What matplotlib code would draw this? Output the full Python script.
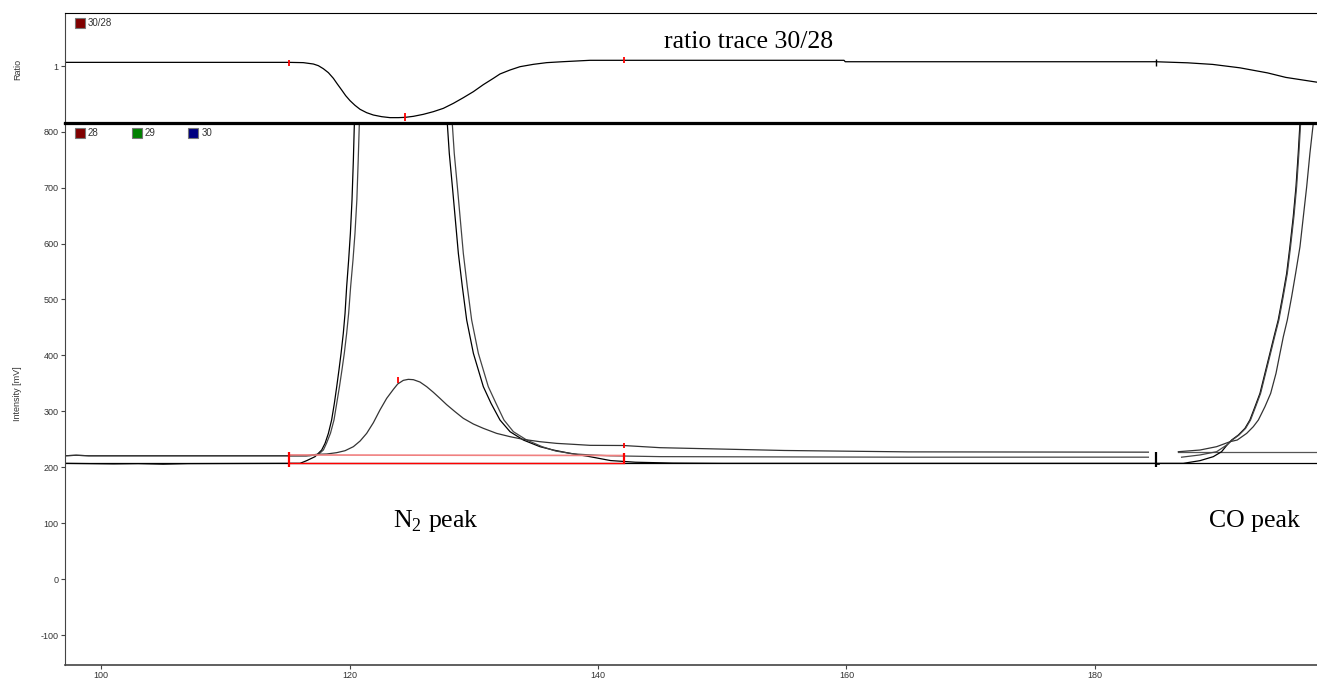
import numpy as np
import matplotlib.pyplot as plt
from matplotlib.patches import Rectangle

plt.rcParams['font.family'] = ['Liberation Sans', 'DejaVu Sans']
plt.rcParams['mathtext.fontset'] = 'custom'
plt.rcParams['mathtext.rm'] = 'Liberation Serif'
plt.rcParams['axes.unicode_minus'] = False

# ratio trace 30/28 (top panel)
ratio_t = [97.1, 114.41, 115.13, 116.28, 117.09, 117.49, 117.89, 118.30, 118.70, 119.02,
           119.37, 119.69, 120.04, 120.44, 120.85, 121.38, 121.92, 122.59, 123.26, 123.93,
           124.47, 125.14, 125.94, 126.75, 127.55, 128.36, 129.16, 129.97, 130.77, 131.58,
           132.11, 132.92, 133.72, 134.79, 135.87, 137.21, 139.36, 142.04, 159.8, 159.9,
           184.88, 187.45, 189.47, 191.67, 193.89, 195.36, 197.87]
ratio_v = [1.0064, 1.0064, 1.0064, 1.0059, 1.0035, 1.0006, 0.9953, 0.9883, 0.9784, 0.9684,
           0.9579, 0.9480, 0.9392, 0.9310, 0.9240, 0.9181, 0.9140, 0.9111, 0.9094, 0.9094,
           0.9099, 0.9117, 0.9152, 0.9199, 0.9257, 0.9345, 0.9444, 0.9550, 0.9673, 0.9784,
           0.9860, 0.9930, 0.9988, 1.0029, 1.0059, 1.0076, 1.0100, 1.0100, 1.0100, 1.0075,
           1.0075, 1.0056, 1.0028, 0.9968, 0.9879, 0.9800, 0.9716]

# mass 28 trace (intensity, mV)
m28_t = [97.1, 101, 103, 105, 107, 115, 116.02, 116.55, 117.22, 117.76, 118.03, 118.30,
         118.56, 118.78, 118.97, 119.15, 119.32, 119.50, 119.64, 119.77, 119.93, 120.07,
         120.20, 120.31, 120.39, 120.6, 122.5, 124.5, 126.5, 127.6, 127.87, 128.03, 128.28,
         128.52, 128.76, 129.08, 129.43, 129.97, 130.37, 130.77, 131.39, 132.11, 132.92,
         133.99, 135.33, 136.40, 137.75, 139.36, 141, 143, 146, 150, 184.3,
         187.11, 188.45, 189.52, 190.19, 190.6, 191.00, 191.54, 192.07, 192.47, 192.88,
         193.28, 193.68, 194.08, 194.41, 194.75, 195.10, 195.43, 195.69, 195.96, 196.18,
         196.36, 196.50, 196.8]
m28_v = [207, 206, 206.5, 205.5, 206.5, 207, 207, 211.8, 218.9, 230.8, 242.7, 260.6,
         284.5, 314.3, 344.1, 373.9, 403.7, 439.5, 475.2, 522.9, 570.6, 618.3,
         677.9, 749.4, 815, 1000, 1800, 2300, 1800, 1000, 815, 761.4, 701.7,
         642.1, 582.5, 522.9, 463.3, 403.7, 373.9, 344.1, 314.3, 284.5, 263.6,
         248.7, 236.8, 230.8, 224.9, 218.9, 212, 209, 207.5, 207, 207,
         207, 211.8, 218.9, 227.8, 239, 248.7, 257.6, 269.5, 284.5, 308.3,
         332.1, 367.9, 403.7, 433.5, 463.3, 505.0, 546.8, 594.4, 648.1, 701.7,
         761.3, 815, 1000]

# mass 29 trace
m29_t = [97.1, 98.0, 99.0, 116.8, 117.5, 117.9, 118.15, 118.47, 118.75, 118.97, 119.19,
         119.39, 119.58, 119.77, 119.93, 120.09, 120.28, 120.44, 120.59, 120.70, 120.79,
         121.0, 122.5, 124.5, 126.5, 128.0, 128.27, 128.43, 128.68, 128.92, 129.16, 129.48,
         129.83, 130.37, 130.77, 131.17, 131.79, 132.43, 133.19, 134.26, 135.5, 136.6,
         138.0, 139.4, 141, 145, 155, 165, 184.3, np.nan,
         186.97, 188.45, 189.79, 190.60, 191.05, 191.59, 192.12, 192.52, 192.93, 193.33,
         193.73, 194.13, 194.46, 194.80, 195.15, 195.48, 195.74, 196.01, 196.23, 196.41,
         196.55, 196.85]
m29_v = [220.5, 221.5, 220.5, 220.5, 223, 231, 243, 261, 284.5, 314.3, 344.1,
         373.9, 403.7, 439.5, 475.2, 522.9, 570.6, 618.3, 677.9, 749.4, 815,
         1000, 1800, 2300, 1800, 1000, 815, 761.4, 701.7, 642.1, 582.5, 522.9,
         463.3, 403.7, 373.9, 344.1, 314.3, 284.5, 263.6, 248.7, 236.8, 229,
         224, 222, 220.5, 219, 218.5, 218, 218, np.nan,
         218, 222, 227.8, 239.7, 248.7, 257.6, 269.5, 284.5, 308.3, 332.1,
         367.9, 403.7, 433.5, 463.3, 505.0, 546.8, 594.4, 648.1, 701.7, 761.3,
         815, 1000]

# mass 30 trace
m30_t = [97.1, 98.0, 99.0, 116.5, 117.36, 118.16, 118.97, 119.64, 120.31, 120.85, 121.38,
         121.92, 122.45, 122.99, 123.53, 123.88, 124.33, 124.73, 125.14, 125.67, 126.21,
         126.75, 127.28, 127.82, 128.49, 129.16, 129.97, 130.77, 131.84, 132.92, 133.99,
         135.33, 136.67, 138.01, 139.36, 142.04, 145, 155, 165, 184.3, np.nan,
         186.71, 188.45, 189.79, 190.87, 191.45, 192.21, 192.74, 193.15, 193.68, 194.14,
         194.57, 194.89, 195.16, 195.48, 195.83, 196.15, 196.50, 196.77, 197.04, 197.30,
         197.57, 197.87]
m30_v = [220.5, 221.5, 220.5, 220.5, 223.1, 223.7, 226.1, 229.6, 236.8, 246.9, 260.6,
         279.7, 302.4, 323.2, 339.3, 348.9, 355.4, 357.2, 356.6, 352.4, 344.1,
         334.0, 323.2, 311.9, 299.4, 287.5, 277.3, 269.6, 260.6, 254.7, 249.9,
         245.7, 242.7, 241.0, 239.2, 238.9, 235, 230, 227.5, 227, np.nan,
         227.8, 230.8, 236.8, 245.7, 248.7, 260.6, 272.5, 284.5, 308.3, 332.1,
         367.9, 403.7, 433.5, 463.3, 505.0, 546.8, 594.4, 648.1, 701.7, 761.3,
         815, 870]

# background lines
bg_low_t = [97.1, 197.87]
bg_low_v = [207, 207]
bg_high_t = [186.7, 197.87]
bg_high_v = [227.5, 227.5]

# N2 peak integration limits
peak_start = 115.13
peak_end = 142.09
peak_top = 123.88
bg_upper = [222, 221]
bg_lower = [207, 207]
next_start = 184.88

# ratio markers
ratio_marks_t = [115.13, 124.47, 142.09]
ratio_marks_lo = [1.0, 0.904, 1.0047]
ratio_marks_hi = [1.011, 0.917, 1.0154]

W, H = 1317, 682
fig = plt.figure(figsize=(W / 100, H / 100), dpi=100)
ax1 = fig.add_axes([65 / W, 1 - 123 / H, 1 - 65 / W, 110 / H])
ax2 = fig.add_axes([65 / W, 1 - 665 / H, 1 - 65 / W, 541.5 / H])

line_kw = dict(color='black', lw=0.9)

# top panel
ax1.plot(ratio_t, ratio_v, **line_kw)
ax1.vlines(ratio_marks_t, ratio_marks_lo, ratio_marks_hi, color='red', lw=1.3)
ax1.vlines(next_start, 0.9998, 1.0118, color='black', lw=1.0)
ax1.set_xlim(97.1, 197.87)
ax1.set_ylim(0.9, 1.093)
ax1.set_xticks([])
ax1.set_yticks([1])
ax1.set_yticklabels(['1'])
ax1.text(145.3, 1.0316, 'ratio trace 30/28', family='Liberation Serif', fontsize=18.5,
         va='baseline', ha='left')
ax1.add_patch(Rectangle((0.008, 0.861), 0.008, 0.0909, transform=ax1.transAxes,
                        facecolor='#800000', edgecolor='#777', lw=0.8))
ax1.text(0.0184, 0.906, '30/28', transform=ax1.transAxes, fontsize=7, color='#333',
         va='center')

# bottom panel
ax2.plot(bg_low_t, bg_low_v, **line_kw)
ax2.plot(bg_high_t, bg_high_v, color='#555', lw=0.9)
ax2.plot(m28_t, m28_v, **line_kw)
ax2.plot(m29_t, m29_v, color='#444', lw=0.9)
ax2.plot(m30_t, m30_v, color='#333', lw=0.9)

ax2.plot([peak_start, peak_end], bg_upper, color='#f08080', lw=1.2)
ax2.plot([peak_start, peak_end], bg_lower, color='red', lw=1.0)
ax2.vlines(peak_start, 201, 227.8, color='red', lw=1.6)
ax2.vlines(peak_end, 207, 225, color='red', lw=1.6)
ax2.vlines(peak_end, 234, 243, color='red', lw=1.3)
ax2.vlines(peak_top, 350, 362, color='red', lw=1.3)
ax2.vlines(next_start, 201, 228, color='black', lw=1.6)
ax2.plot([next_start, next_start + 0.3], [206, 206], color='black', lw=1.2)

ax2.set_xlim(97.1, 197.87)
ax2.set_ylim(-153.6, 814.7)
ax2.set_xticks([100, 120, 140, 160, 180])
ax2.set_yticks(np.arange(-100, 801, 100))

ax2.text(123.5, 93, r'N$_\mathrm{2}$ peak', family='Liberation Serif', fontsize=18.5,
         va='baseline', ha='left')
ax2.text(189.2, 93, 'CO peak', family='Liberation Serif', fontsize=18.5,
         va='baseline', ha='left')

legend_x = [0.008, 0.0533, 0.0985]
legend_c = ['#800000', '#008000', '#000080']
legend_l = ['28', '29', '30']
for lx, lc, ll in zip(legend_x, legend_c, legend_l):
    ax2.add_patch(Rectangle((lx, 0.9727), 0.008, 0.01847, transform=ax2.transAxes,
                            facecolor=lc, edgecolor='#777', lw=0.8))
    ax2.text(lx + 0.0104, 0.9819, ll, transform=ax2.transAxes, fontsize=7, color='#333',
             va='center')

for ax in (ax1, ax2):
    ax.spines['right'].set_visible(False)
    ax.spines['left'].set_color('#444')
    ax.tick_params(labelsize=6.5, labelcolor='#333', color='#444', length=3, width=0.8,
                   pad=1.5)

ax1.spines['top'].set_color('black')
ax1.spines['bottom'].set_linewidth(1.6)
ax2.spines['top'].set_linewidth(1.6)
ax2.spines['bottom'].set_color('#444')
ax2.spines['bottom'].set_linewidth(1.2)

fig.text(17.5 / W, 1 - 69 / H, 'Ratio', rotation=90, fontsize=6.5, color='#333',
         ha='center', va='center')
fig.text(17.5 / W, 1 - 394 / H, 'Intensity [mV]', rotation=90, fontsize=6.5, color='#333',
         ha='center', va='center')

fig.savefig('out.png', dpi=100)
